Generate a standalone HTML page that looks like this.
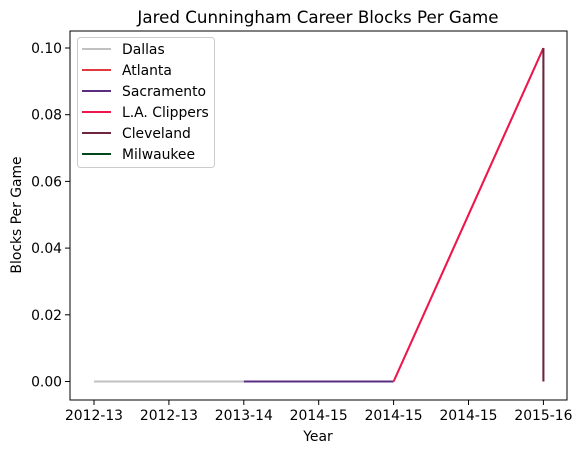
<!DOCTYPE html>
<html><head><meta charset="utf-8"><style>body{margin:0;background:#fff}svg text{font-family:"DejaVu Sans","Liberation Sans",sans-serif;fill:#000}</style></head>
<body>
<svg id="c" width="582" height="453"></svg>
<script>
const tickLabels=["2012-13","2012-13","2013-14","2014-15","2014-15","2014-15","2015-16"];
const tickPos=[0,0.5,1,1.5,2,2.5,3];
const yTicks=[0,0.02,0.04,0.06,0.08,0.10];
const teams=["Dallas","Atlanta","Sacramento","L.A. Clippers","Cleveland","Milwaukee"];
const colors=["#c0c0c0","#e03a3e","#5a2d81","#ed174c","#6f263d","#00471b"];
const seriesX=[[0,1],[],[1,2],[2,3],[3,3],[]];
const seriesY=[[0,0],[],[0,0],[0,0.1],[0,0.1],[]];
const L=70,R=567,T=31,B=400;
const xs=v=>94+v*149.8, ys=v=>381.5-v*3335;
const svg=document.getElementById('c');const NS="http://www.w3.org/2000/svg";
function mk(t,a,p){const e=document.createElementNS(NS,t);for(const k in a)e.setAttribute(k,a[k]);(p||svg).appendChild(e);return e;}
let t=mk('text',{x:318,y:23,'font-size':16.7,'text-anchor':'middle'});t.textContent="Jared Cunningham Career Blocks Per Game";

seriesX.forEach((sx,i)=>{if(!sx.length)return;const p=mk('polyline',{points:sx.map((x,j)=>xs(x)+','+ys(seriesY[i][j])).join(' '),fill:'none',stroke:colors[i],'stroke-width':2.1});

});
const fr=mk('rect',{x:L,y:T,width:R-L,height:B-T,fill:'none',stroke:'#000','stroke-width':1});

tickPos.forEach((v,i)=>{const x=xs(v);mk('line',{x1:x,x2:x,y1:B,y2:B+5,stroke:'#000'});const tx=mk('text',{x:x,y:B+20,'font-size':13.9,'text-anchor':'middle'});tx.textContent=tickLabels[i];
});
yTicks.forEach(v=>{const y=ys(v);mk('line',{x1:L-5,x2:L,y1:y,y2:y,stroke:'#000'});const tx=mk('text',{x:L-8,y:y+5,'font-size':13.9,'text-anchor':'end'});tx.textContent=v.toFixed(2);
});
t=mk('text',{x:318,y:441,'font-size':13.9,'text-anchor':'middle'});t.textContent="Year";

t=mk('text',{x:0,y:0,'font-size':13.9,'text-anchor':'middle',transform:'translate(21,215) rotate(-90)'});t.textContent="Blocks Per Game";

const lg=mk('g',{});
mk('rect',{x:77.5,y:37.5,width:137,height:130,rx:3,fill:'#fff','fill-opacity':0.8,stroke:'#ccc'},lg);
teams.forEach((n,i)=>{const y=49+i*21;const g=mk('g',{},lg);
mk('line',{x1:82,x2:111,y1:y,y2:y,stroke:colors[i],'stroke-width':2.1},g);const tx=mk('text',{x:122,y:y+5,'font-size':13.9},g);tx.textContent=n;});
</script>
</body></html>
